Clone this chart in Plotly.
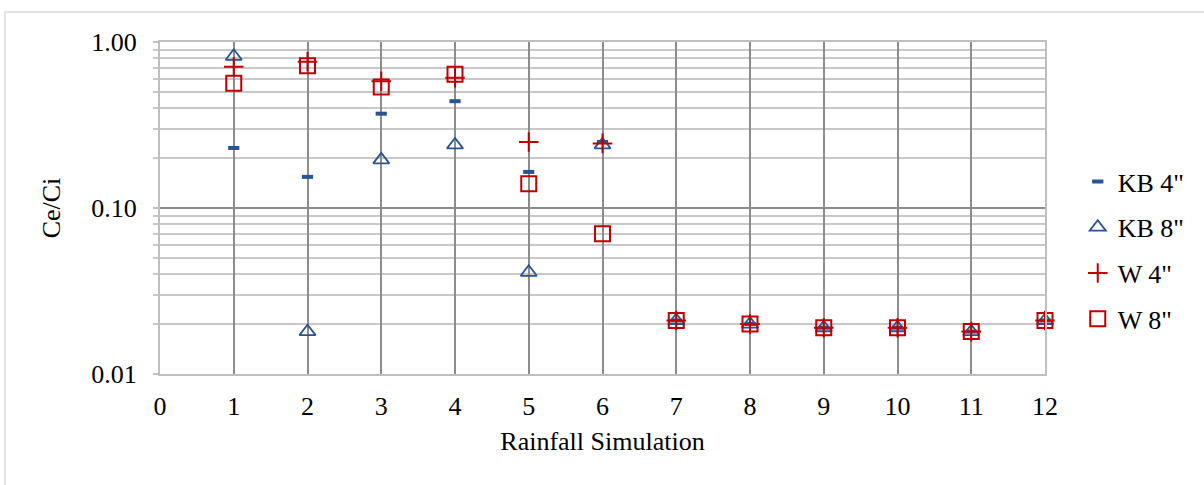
import plotly.graph_objects as go

x_vals = [1, 2, 3, 4, 5, 6, 7, 8, 9, 10, 11, 12]
kb4 = [0.23, 0.154, 0.37, 0.44, 0.165, 0.25, 0.021, 0.020, 0.019, 0.019, 0.018, 0.021]
kb8 = [0.82, 0.018, 0.195, 0.24, 0.041, 0.24, 0.021, 0.020, 0.019, 0.019, 0.018, 0.021]
w4 = [0.71, 0.76, 0.58, 0.61, 0.25, 0.245, 0.021, 0.020, 0.019, 0.019, 0.018, 0.021]
w8 = [0.565, 0.72, 0.535, 0.64, 0.14, 0.07, 0.021, 0.020, 0.019, 0.019, 0.018, 0.021]
x_ticks = list(range(0, 13))
y_ticks = [0.01, 0.1, 1.0]
y_tick_text = ["0.01", "0.10", "1.00"]
minor_vals = [m * 10 ** e for e in (-2, -1) for m in range(2, 10)]

BLUE = "#2A5391"
RED = "#C00000"
FONT = "Liberation Serif"
FS = 26

fig = go.Figure()
fig.add_trace(go.Scatter(x=x_vals, y=kb4, mode="markers", name='KB 4"', legendgroup="a", cliponaxis=False,
                         marker=dict(symbol="line-ew", size=8, color=BLUE, line=dict(color=BLUE, width=4))))
fig.add_trace(go.Scatter(x=x_vals, y=kb8, mode="markers", name='KB 8"', legendgroup="b", cliponaxis=False,
                         marker=dict(symbol="triangle-up-open", size=14, color=BLUE, line=dict(color=BLUE, width=1.8))))
fig.add_trace(go.Scatter(x=x_vals, y=w4, mode="markers", name='W 4"', legendgroup="c", cliponaxis=False,
                         marker=dict(symbol="cross-thin-open", size=14, color=RED, line=dict(color=RED, width=2))))
fig.add_trace(go.Scatter(x=x_vals, y=w8, mode="markers", name='W 8"', legendgroup="d", cliponaxis=False,
                         marker=dict(symbol="square-open", size=15, color=RED, line=dict(color=RED, width=2))))

fig.update_layout(
    width=1204, height=485,
    margin=dict(l=160, r=159, t=42, b=111, autoexpand=False),
    plot_bgcolor="white", paper_bgcolor="white",
    font=dict(family=FONT, size=FS, color="black"),
    showlegend=True,
    legend=dict(x=1.037, y=0.372, xanchor="left", yanchor="middle",
                traceorder="grouped", tracegroupgap=9,
                font=dict(family=FONT, size=FS), itemwidth=30,
                bgcolor="rgba(0,0,0,0)"),
    xaxis=dict(range=[0, 12], tickvals=x_ticks, showgrid=True, gridcolor="#8C8C8C", gridwidth=2,
               showline=True, linecolor="#BFBFBF", linewidth=2, mirror=True, zeroline=False,
               ticks="", ticklabelstandoff=8,
               title=dict(text="Rainfall Simulation", font=dict(family=FONT, size=FS), standoff=12)),
    yaxis=dict(type="log", range=[-2, 0], tickvals=y_ticks, ticktext=y_tick_text,
               showgrid=True, gridcolor="#8C8C8C", gridwidth=2,
               showline=True, linecolor="#BFBFBF", linewidth=2, mirror=True, zeroline=False,
               ticks="outside", ticklen=5, tickcolor="#BFBFBF", tickwidth=2, ticklabelstandoff=11,
               minor=dict(tickvals=minor_vals, showgrid=True, gridcolor="#C8C8C8", gridwidth=2,
                          ticks="outside", ticklen=5, tickcolor="#C8C8C8"),
               title=dict(text="Ce/Ci", font=dict(family=FONT, size=FS), standoff=23)),
)

# outer chart border
fig.add_shape(type="rect", xref="paper", yref="paper",
              x0=(5 - 160) / 885, x1=(1215 - 160) / 885,
              y0=(332 - (495 - 42)) / 332, y1=(332 - (12 - 42)) / 332,
              line=dict(color="#D9D9D9", width=1.5), fillcolor="rgba(0,0,0,0)", layer="below")

fig.write_html("out.html")
